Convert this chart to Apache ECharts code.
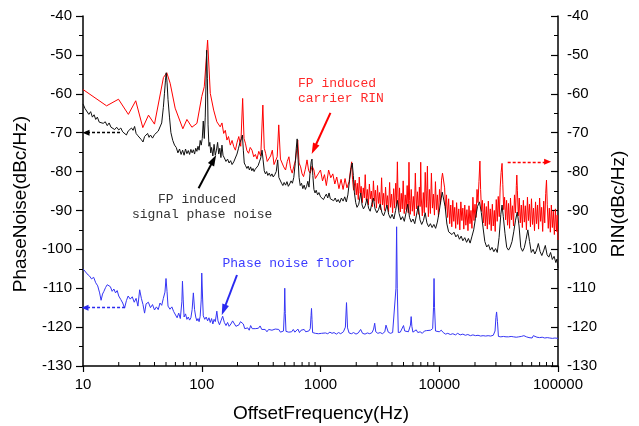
<!DOCTYPE html>
<html>
<head>
<meta charset="utf-8">
<script src="https://cdn.jsdelivr.net/npm/echarts@6/dist/echarts.min.js"></script>
<style>html,body{margin:0;padding:0;background:#fff;}#c{width:639px;height:426px;}</style>
</head>
<body>
<div id="c"></div>
<script>
// ---- data: [frequency Hz, dB] ----
const phaseNoise = [
[10,-62.6],[10.4,-63.8],[10.8,-64.2],[11.2,-65.3],[11.6,-64.6],[12,-66],[12.4,-65.4],[12.8,-66.6],[13.2,-66],[13.7,-67.3],
[14.2,-66.8],[14.8,-67.6],[15.4,-67.2],[16,-68.2],[16.6,-67.5],[17.2,-68.6],[17.8,-68.1],[18.5,-69.2],[19.2,-68.6],[20,-69.3],
[20.8,-68.8],[21.6,-69.8],[22.4,-69.4],[23.2,-70.6],[24,-69.6],[24.8,-69.9],[25.6,-68.8],[26.4,-69.4],[27.2,-68.4],[28,-70.2],
[29,-70.8],[30,-70.4],[31,-71.8],[32,-72.4],[33,-71],[34,-71.5],[35,-70.2],[36,-71.2],[37,-70.6],[38.5,-71.4],
[40,-70.5],[41.5,-71],[43,-69.6],[44.5,-69.3],[46,-67.5],[47.5,-63.5],[48.5,-60],[49.5,-56.5],[50.2,-54.6],[51,-57],
[52,-61.5],[53.5,-66],[55,-70],[57,-72],[59,-73.2],[61,-73.8],[63,-75.2],[65,-74.2],[67,-75.6],[69,-74.5],
[71,-75.8],[73,-74.2],[75,-75.4],[77,-74.6],[79,-75.6],[81,-74.3],[83,-75.2],[85,-74.4],[87,-75.5],[89,-74],
[91,-74.8],[93,-73.5],[95,-74.5],[97,-72],[99,-73.2],[101,-71.5],[103,-67],[105,-71.5],[107,-66],[108.5,-58],
[110,-48.8],[111.5,-56],[113,-68],[115,-73.5],[117,-72.5],[119,-75.2],[121,-73.8],[124,-76],[127,-73],[130,-75.8],
[133,-74.5],[136,-72.5],[139,-75.5],[142,-74],[145,-76.4],[148,-73.2],[151,-75.8],[155,-76.5],[160,-77.4],[165,-76.8],
[170,-77.8],[175,-77.2],[180,-78.2],[186,-77.5],[192,-77],[198,-75.5],[204,-74],[210,-72.5],[216,-71.5],[220,-70.6],
[224,-74.5],[228,-77.8],[234,-78.5],[240,-79.2],[246,-78.6],[252,-79.6],[258,-78.8],[264,-79.8],[270,-79.2],[276,-80],
[282,-79.4],[290,-79.8],[298,-78.5],[306,-77.5],[314,-76.5],[322,-74.5],[328,-76.8],[336,-79.8],[344,-80.6],[352,-80],
[360,-81],[370,-80.4],[380,-81.2],[390,-80.6],[400,-81.4],[412,-80.8],[424,-80],[436,-77],[446,-81.5],[458,-82],
[470,-83],[482,-83.6],[494,-82.8],[508,-83.5],[522,-82.6],[536,-83.8],[550,-83.2],[565,-82.4],[580,-83],[596,-81.5],
[612,-78],[625,-74],[636,-71.6],[648,-77],[660,-81.5],[675,-83.6],[692,-83],[710,-84.4],[728,-83.5],[746,-84.6],
[764,-83.8],[782,-82.5],[800,-84],[818,-80],[835,-77.5],[848,-76.8],[862,-81],[880,-84.6],[900,-85.5],[920,-84.8],
[945,-86],[970,-85.4],[1000,-86.5],[1030,-86],[1060,-87.2],[1090,-86.4],[1120,-85.8],[1150,-86.8],[1180,-85.5],[1210,-87],
[1250,-86.5],[1290,-87.5],[1330,-86.8],[1370,-87.8],[1410,-87.2],[1450,-88],[1500,-86.8],[1550,-87.6],[1600,-86.5],[1650,-87.8],
[1700,-86],[1760,-82],[1800,-79.5],[1850,-77.8],[1890,-81],[1930,-85.5],[1980,-88],[2030,-89.2],[2100,-88.4],[2180,-85.5],
[2240,-88.6],[2300,-89.6],[2380,-88.8],[2460,-87],[2540,-89.4],[2620,-90.2],[2700,-88.4],[2790,-86.8],[2880,-89.6],[2980,-90.6],
[3080,-89.8],[3180,-88.4],[3290,-90.6],[3400,-91.4],[3510,-90.2],[3630,-88.6],[3750,-91],[3880,-92],[4010,-91],[4150,-92.2],
[4290,-90],[4440,-87.4],[4590,-90.8],[4750,-92.4],[4910,-91.6],[5080,-92.8],[5250,-90.6],[5430,-88.4],[5620,-91.8],[5810,-93],
[6010,-92.2],[6220,-93.4],[6430,-91.2],[6650,-88.8],[6880,-92.4],[7110,-93.6],[7360,-92.6],[7610,-90.6],[7870,-93.2],[8140,-94.2],
[8420,-93.4],[8710,-94.4],[9010,-93.6],[9320,-94.6],[9640,-93],[9970,-90.5],[10300,-87.5],[10600,-85.3],[10900,-85.8],[11200,-89],
[11600,-93.5],[12000,-95.5],[12400,-95.2],[12800,-96.2],[13300,-95.6],[13800,-96.8],[14300,-96.2],[14800,-97.4],[15300,-96.6],[15800,-97.8],
[16400,-97],[17000,-98.2],[17600,-97.2],[18200,-98.4],[18800,-96.8],[19500,-95],[20200,-92],[21000,-89],[21800,-87.8],[22600,-90.5],
[23400,-94.5],[24200,-98],[25100,-99.4],[26000,-98.8],[26900,-100.2],[27800,-99.5],[28800,-100.6],[29800,-99.8],[30800,-100.8],[31900,-97],
[33000,-91],[33800,-88.6],[34600,-91.5],[35800,-96],[37000,-99.5],[38300,-100.2],[39600,-99.4],[41000,-98],[42400,-95.5],[43900,-92.5],
[45400,-90.4],[47000,-94],[48600,-99.5],[50300,-100.5],[52000,-99.6],[53800,-97.5],[55700,-95],[57600,-98],[59600,-100.8],[61700,-100],
[63800,-101.2],[66000,-100.2],[68300,-98.5],[70700,-100.6],[73100,-101.6],[75600,-100.4],[78200,-99],[80900,-101.4],[83700,-102],[86600,-100.8],
[89600,-102.6],[92700,-101.8],[95900,-103.4],[98000,-102.5],[100000,-104.8]
];

const carrierRIN = [
[10,-58.9],[15.8,-63.1],[19.9,-61.4],[24.1,-65.3],[27.8,-61.8],[31.9,-68.7],[35.6,-65.5],[40,-67.8],[47.6,-55.8],[50.8,-54.6],
[54.2,-57.3],[59.7,-63.7],[69.3,-69],[75,-66.6],[82.6,-68.6],[91.1,-67.6],[100,-60.7],[105,-58.2],[112,-46.2],[118,-59.9],
[126,-64.2],[134,-67.2],[143,-68.5],[148,-67.5],[153,-70.2],[158,-69.4],[163,-71.9],[168,-71],[174,-73.2],[180,-72],
[186,-73.6],[192,-74.5],[198,-72.6],[205,-71],[213,-73.5],[221,-61.2],[227,-71.5],[233,-72.7],[240,-74.6],[248,-75.3],
[256,-73.8],[265,-74.5],[274,-76.2],[283,-75.6],[292,-76.8],[302,-74.8],[314,-76],[327,-62.9],[336,-74],[345,-75.3],
[356,-77.4],[368,-77],[380,-76],[393,-74.5],[406,-78.2],[419,-77.9],[432,-76.2],[445,-68],[460,-76.8],[475,-77],
[490,-78.8],[508,-79.6],[525,-77.4],[542,-76.2],[560,-79.2],[578,-80.4],[597,-78.6],[617,-77],[630,-74.5],[643,-71.9],
[660,-77.8],[680,-78.8],[700,-80.6],[720,-81.3],[745,-79.4],[770,-77],[795,-79.8],[820,-80.4],[850,-78.6],[880,-79.6],
[905,-81.8],[935,-82.2],[965,-80.4],[1000,-79.6],[1040,-82.4],[1080,-80.8],[1120,-83.6],[1170,-79.6],[1220,-81.6],[1270,-80.6],
[1320,-83.2],[1370,-81.4],[1430,-84.4],[1490,-82],[1550,-84.6],[1610,-81.8],[1670,-84.2],[1740,-82.6],[1800,-79],[1830,-77.5],
[1860,-82],[1900,-84.8],[1960,-82.2],[2000,-86],[2040,-83],[2080,-87.2],[2120,-81.4],[2160,-85.6],[2200,-83.8],[2250,-88],
[2290,-84.2],[2340,-86.8],[2380,-80.8],[2430,-87.4],[2480,-84.6],[2530,-88.6],[2580,-83.2],[2630,-87],[2680,-85],[2740,-89],
[2790,-82.4],[2850,-87.6],[2900,-84.8],[2960,-89.4],[3020,-83.6],[3080,-88.2],[3140,-85.4],[3200,-89.8],[3270,-81.6],[3330,-88.6],
[3400,-85.6],[3460,-90],[3530,-84],[3600,-88.8],[3670,-86.2],[3740,-90.4],[3820,-82.8],[3890,-89.2],[3970,-85.8],[4050,-90.6],
[4130,-84.4],[4210,-89.4],[4300,-83],[4370,-88.4],[4440,-77.5],[4500,-86.6],[4560,-89.8],[4630,-84.2],[4700,-90.4],[4790,-85.6],
[4880,-89.6],[4970,-82.4],[5070,-90.8],[5170,-86],[5270,-89.8],[5370,-83.6],[5480,-90.6],[5560,-77.6],[5630,-87.4],[5700,-91],
[5810,-84.6],[5930,-90.2],[6050,-86.4],[6170,-91.4],[6290,-80.4],[6420,-89.6],[6550,-85.2],[6680,-91],[6800,-84],[6900,-89],
[6980,-77.6],[7060,-86.8],[7200,-91.4],[7340,-85.4],[7480,-90.6],[7620,-80.2],[7780,-89.2],[7870,-84.8],[7950,-78.6],[8030,-87.6],
[8100,-91.6],[8260,-84.6],[8420,-90.8],[8590,-80.4],[8760,-89.4],[8930,-85.8],[9110,-91.2],[9290,-82.6],[9470,-89.8],[9650,-86],
[9850,-91.6],[10050,-84.6],[10250,-88.4],[10450,-82.2],[10650,-80.4],[10900,-80],[11100,-84.2],[11300,-90],[11500,-86],[11750,-91.8],
[12000,-87],[12250,-93.4],[12500,-88.6],[12750,-94.2],[13000,-87.4],[13250,-92.8],[13500,-89.2],[13750,-94.6],[14000,-88],[14300,-93.6],
[14600,-89.6],[14900,-95],[15200,-87.8],[15500,-92.6],[15800,-89.4],[16100,-94.8],[16400,-88.6],[16750,-93.8],[17100,-89.8],[17450,-95.2],
[17800,-88.8],[18150,-93.4],[18500,-90],[18850,-94.6],[19200,-86.6],[19600,-92.6],[20000,-88.4],[20400,-91.8],[20800,-84.6],[21200,-88],
[21600,-82.6],[22000,-77.3],[22300,-84.6],[22700,-90.2],[23100,-87.4],[23500,-93.2],[24000,-88.2],[24400,-94],[24900,-89],[25400,-94.8],
[25900,-87.6],[26400,-93.6],[26900,-89.6],[27400,-95.2],[28000,-88.4],[28500,-94],[29100,-90],[29600,-95.4],[30200,-87.2],[30800,-92.8],
[31400,-86.4],[32000,-91.6],[32600,-84],[33200,-80.2],[33800,-77.9],[34300,-83.4],[34900,-89.8],[35500,-86.6],[36200,-92.4],[36900,-87.4],
[37600,-93.8],[38300,-88.2],[39100,-94.6],[39800,-86.8],[40600,-92.4],[41400,-88.8],[42200,-94],[43000,-86],[43900,-90.6],[44600,-83.6],
[45000,-80.9],[45500,-84.8],[46300,-91.4],[47200,-86.8],[48100,-93.2],[49100,-88.6],[50100,-94.4],[51100,-87.4],[52100,-93],[53100,-88.8],
[54200,-95],[55300,-86.6],[56400,-92.6],[57500,-88.4],[58600,-94.2],[59800,-87],[61000,-93.6],[62200,-89.4],[63400,-95.2],[64700,-87.8],
[66000,-93.4],[67300,-88.6],[68600,-94.8],[70000,-86.8],[71400,-92.8],[72800,-89.2],[74300,-95.4],[75800,-87.6],[77300,-93.2],[78800,-85.6],
[80000,-82.2],[81200,-88.4],[82800,-94.6],[84500,-89.4],[86200,-95.6],[87900,-88.6],[89600,-94.4],[91400,-90.2],[93200,-96.2],[95100,-89.6],
[97000,-95.4],[98500,-91.2],[100000,-97.6]
];

const noiseFloor = [
[10,-105.1],[10.4,-105.6],[10.8,-106.3],[11.3,-106.8],[11.8,-107.6],[12.3,-107.2],[12.8,-108.6],[13.3,-109.4],[13.8,-111.2],[14.2,-113.1],
[14.6,-111.5],[15,-110.8],[15.5,-109.8],[16,-109.1],[16.5,-108.6],[17,-109.6],[17.6,-110.8],[18.2,-110.2],[18.8,-111.2],[19.4,-110.6],
[20,-112],[20.8,-112.9],[21.6,-113.8],[22.4,-115.1],[23.2,-113.2],[24,-112],[25,-112.8],[26,-112.2],[27,-113.6],[28,-112.6],
[29,-114.6],[30,-110.4],[31,-112.6],[32,-114.2],[33,-116.4],[34,-114],[35.5,-113.6],[37,-115],[38.5,-114.2],[40,-115.6],
[41.5,-114.8],[43,-115.5],[44.5,-113.8],[46,-114.4],[47.5,-112.6],[49,-111],[50,-107.5],[51,-110.8],[52,-114.6],[54,-115.4],
[56,-114.8],[58,-116],[60,-115.6],[62,-117.6],[64,-116.4],[66,-117.8],[68,-113.5],[68.8,-108.2],[69.8,-113],[71,-117.4],
[73,-116.6],[75,-118],[77,-117.4],[79,-118.2],[81,-117.6],[83,-115.5],[85,-111.2],[87,-115.5],[89,-117.4],[91,-118.4],
[93,-117.8],[95,-118.6],[97,-117.2],[99,-113],[100,-106.1],[101.5,-112],[103,-117.1],[106,-118],[109,-117.4],[112,-118.4],
[115,-117.6],[118,-118.8],[121,-117.8],[124,-119.2],[127,-118],[130,-118.6],[134,-115.9],[137,-118.4],[141,-119.4],[145,-118.4],
[150,-117.2],[155,-118.8],[160,-119.6],[165,-118.8],[170,-119.8],[176,-119.2],[182,-118.4],[188,-118.8],[194,-119.8],[200,-120.2],
[206,-119.4],[212,-118.6],[218,-118.3],[224,-119.2],[230,-120.4],[237,-120.6],[244,-120.2],[251,-120.8],[258,-119.6],[266,-120.4],
[274,-120.8],[282,-120.4],[290,-120.9],[300,-120.3],[310,-119.7],[320,-120.6],[330,-121],[342,-120.6],[354,-121.2],[366,-120.6],
[378,-121],[390,-120.8],[402,-121.2],[416,-120.5],[430,-121],[445,-120.6],[460,-121.3],[475,-120.8],[488,-121],[496,-116],
[500,-110],[505,-116.5],[512,-121.1],[525,-120.7],[540,-121.3],[556,-120.8],[572,-121.2],[590,-120.6],[608,-121.3],[626,-121],
[645,-120.5],[665,-121.4],[686,-120.8],[707,-121.3],[728,-120.6],[750,-121.2],[773,-121.4],[797,-121],[820,-120.4],[833,-117],
[840,-115.2],[848,-118],[858,-121.4],[880,-121.2],[905,-121.6],[930,-121.3],[960,-121.7],[990,-121.4],[1020,-121.6],[1060,-121.3],
[1100,-121.5],[1150,-121.7],[1200,-121.3],[1250,-121.6],[1300,-121.4],[1360,-121.8],[1420,-121.4],[1480,-121.7],[1560,-121.2],[1620,-120],
[1656,-113.7],[1690,-120.2],[1740,-121.5],[1820,-121.7],[1900,-121.4],[1990,-121.8],[2080,-121.5],[2178,-120.6],[2260,-121.6],[2370,-121.8],
[2480,-121.5],[2600,-121.7],[2720,-121.4],[2800,-120.5],[2860,-119],[2920,-121.2],[3040,-121.6],[3180,-121.4],[3320,-121.7],[3480,-121.2],
[3560,-119.5],[3640,-119.6],[3720,-121.3],[3880,-121.6],[4050,-121.4],[4200,-121.2],[4320,-110],[4375,-94.2],[4430,-110],[4520,-121.4],
[4700,-121.3],[4880,-121.1],[5000,-119.6],[5050,-119.2],[5120,-121],[5300,-121.4],[5500,-121.2],[5720,-119.5],[5800,-117.3],[5880,-119.8],
[6000,-121.3],[6200,-121.6],[6400,-120.7],[6600,-121.4],[6900,-121.2],[7200,-121.6],[7500,-121],[7800,-120.9],[8100,-121.4],[8450,-120.8],
[8800,-120.4],[8950,-115],[9040,-107.5],[9130,-115],[9300,-121],[9600,-121.4],[10000,-121.2],[10400,-120.8],[10800,-121.4],[11300,-121.8],
[11800,-121.6],[12400,-121.9],[13000,-121.7],[13700,-122],[14300,-121.6],[15000,-122],[15800,-121.8],[16600,-122.1],[17400,-121.9],[18300,-122.2],
[19200,-122],[20200,-122.2],[21200,-122.1],[22300,-122.3],[23400,-122.2],[24600,-122.3],[25800,-122.2],[27100,-122.3],[28500,-122.1],[29500,-121],
[30000,-117.5],[30400,-116.1],[30900,-118.5],[31500,-122.4],[33000,-122.5],[34700,-122.4],[36500,-122.5],[38300,-122.5],[40300,-122.4],[42300,-122.5],
[44500,-122.6],[46700,-122.5],[49100,-122.4],[51600,-122.2],[54200,-122.5],[57000,-122.7],[59000,-123.1],[60500,-122.8],[62000,-122.2],[64000,-122.5],
[66500,-122.6],[70000,-122.7],[73600,-122.6],[77300,-122.8],[81200,-122.7],[85300,-122.8],[89700,-122.9],[94200,-122.8],[100000,-122.9]
];

const xMinorTicks = [20,30,40,50,60,70,80,90,200,300,400,500,600,700,800,900,
  2000,3000,4000,5000,6000,7000,8000,9000,20000,30000,40000,50000,60000,70000,80000,90000];

// annotation arrows in data coordinates
const arrowRIN = [[1213,-64.9],[881,-74.2]];
const arrowSignal = [[94,-84.3],[125.8,-77.0]];
const arrowFloor = [[198,-106.6],[153,-115.6]];
const dashLeftBlack = [[20.5,-70],[10.6,-70]];
const dashLeftBlue = [[22.6,-115],[10.4,-115]];
const dashRightRed = [[37700,-77.5],[81800,-77.5]];

function arrowLine(pts, dashed, color) {
  return [
    {coord: pts[0], symbol: 'none', lineStyle: {color: color, width: dashed ? 1.3 : 2, type: dashed ? [3, 2] : 'solid'}},
    {coord: pts[1], symbol: 'triangle', symbolSize: dashed ? [6, 7] : [7, 11]}
  ];
}

const chart = echarts.init(document.getElementById('c'), null, {renderer: 'canvas'});
const sans = 'Liberation Sans, Arial, sans-serif';
const mono = 'Liberation Mono, Courier New, monospace';

chart.setOption({
  animation: false,
  backgroundColor: '#fff',
  grid: {left: 83, right: 81, top: 16, bottom: 60},
  xAxis: {
    type: 'log', logBase: 10, min: 10, max: 100000,
    axisLine: {show: true, onZero: false, lineStyle: {color: '#000', width: 1.5}},
    axisTick: {show: true, length: 6, lineStyle: {color: '#000', width: 1.2}},
    splitLine: {show: false},
    axisLabel: {color: '#000', fontSize: 15, fontFamily: sans, margin: 11,
      formatter: function (v) { return String(Math.round(v)); }}
  },
  yAxis: [
    {
      type: 'value', min: -130, max: -40, interval: 10, position: 'left',
      axisLine: {show: true, onZero: false, lineStyle: {color: '#000', width: 1.5}},
      axisTick: {show: true, length: 7, lineStyle: {color: '#000', width: 1.2}},
      minorTick: {show: true, splitNumber: 2, length: 4, lineStyle: {color: '#000', width: 1}},
      splitLine: {show: false},
      axisLabel: {color: '#000', fontSize: 15, fontFamily: sans, margin: 11}
    },
    {
      type: 'value', min: -130, max: -40, interval: 10, position: 'right',
      axisLine: {show: true, onZero: false, lineStyle: {color: '#000', width: 1.5}},
      axisTick: {show: true, inside: true, length: 7, lineStyle: {color: '#000', width: 1.2}},
      minorTick: {show: true, splitNumber: 2, length: 4, lineStyle: {color: '#000', width: 1}},
      splitLine: {show: false},
      axisLabel: {color: '#000', fontSize: 15, fontFamily: sans, margin: 9}
    }
  ],
  series: [
    {
      name: 'carrier RIN', type: 'line', yAxisIndex: 1, data: carrierRIN,
      showSymbol: false, symbol: 'none', lineStyle: {color: '#ff0000', width: 1}, z: 2,
      markLine: {silent: true, animation: false, label: {show: false}, symbol: ['none', 'triangle'],
        itemStyle: {color: '#ff0000'},
        data: [arrowLine(arrowRIN, false, '#ff0000'), arrowLine(dashRightRed, true, '#ff0000')]}
    },
    {
      name: 'signal phase noise', type: 'line', yAxisIndex: 0, data: phaseNoise,
      showSymbol: false, symbol: 'none', lineStyle: {color: '#111111', width: 1}, z: 3,
      markLine: {silent: true, animation: false, label: {show: false}, symbol: ['none', 'triangle'],
        itemStyle: {color: '#000'},
        data: [arrowLine(arrowSignal, false, '#000'), arrowLine(dashLeftBlack, true, '#000')]}
    },
    {
      name: 'Phase noise floor', type: 'line', yAxisIndex: 0, data: noiseFloor,
      showSymbol: false, symbol: 'none', lineStyle: {color: '#3535f5', width: 1}, z: 3,
      markLine: {silent: true, animation: false, label: {show: false}, symbol: ['none', 'triangle'],
        itemStyle: {color: '#2a2af0'},
        data: [arrowLine(arrowFloor, false, '#2a2af0'), arrowLine(dashLeftBlue, true, '#2a2af0')]}
    },
    {
      type: 'custom', yAxisIndex: 0, silent: true, clip: false, z: 5,
      data: xMinorTicks.map(function (f) { return [f, -130]; }),
      renderItem: function (params, api) {
        const p = api.coord([api.value(0), api.value(1)]);
        return {type: 'line', shape: {x1: p[0], y1: p[1], x2: p[0], y2: p[1] - 4},
          style: {stroke: '#000', lineWidth: 1}};
      }
    }
  ],
  graphic: [
    {type: 'text', x: 21, y: 204, rotation: Math.PI / 2,
      style: {text: 'PhaseNoise(dBc/Hz)', font: '19px ' + sans, fill: '#000', align: 'center', verticalAlign: 'middle'}},
    {type: 'text', x: 619, y: 204, rotation: Math.PI / 2,
      style: {text: 'RIN(dBc/Hz)', font: '19px ' + sans, fill: '#000', align: 'center', verticalAlign: 'middle'}},
    {type: 'text', x: 321, y: 414,
      style: {text: 'OffsetFrequency(Hz)', font: '19px ' + sans, fill: '#000', align: 'center', verticalAlign: 'middle'}},
    {type: 'text', x: 298, y: 83.5,
      style: {text: 'FP induced', font: '13px ' + mono, fill: '#ff2a2a', align: 'left', verticalAlign: 'middle'}},
    {type: 'text', x: 298, y: 98.5,
      style: {text: 'carrier RIN', font: '13px ' + mono, fill: '#ff2a2a', align: 'left', verticalAlign: 'middle'}},
    {type: 'text', x: 158, y: 199.5,
      style: {text: 'FP induced', font: '13px ' + mono, fill: '#333', align: 'left', verticalAlign: 'middle'}},
    {type: 'text', x: 132, y: 214.5,
      style: {text: 'signal phase noise', font: '13px ' + mono, fill: '#333', align: 'left', verticalAlign: 'middle'}},
    {type: 'text', x: 222.5, y: 263.5,
      style: {text: 'Phase noise floor', font: '13px ' + mono, fill: '#3a3aff', align: 'left', verticalAlign: 'middle'}}
  ]
});
</script>
</body>
</html>
